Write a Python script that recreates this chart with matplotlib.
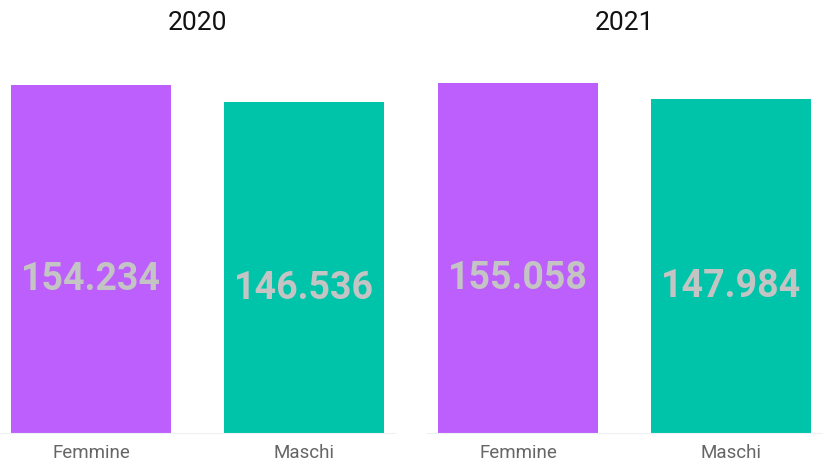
import matplotlib
matplotlib.use("Agg")
import matplotlib.pyplot as plt

years = ["2020", "2021"]
categories = ["Femmine", "Maschi"]
values = {"2020": [154234, 146536], "2021": [155058, 147984]}
labels = {"2020": ["154.234", "146.536"], "2021": ["155.058", "147.984"]}
colors = ["#BD5FFD", "#00C4AA"]

fig = plt.figure(figsize=(8.34, 4.62), dpi=100)
W, H = 834, 462
panels = [(0, 395), (427, 395)]
bottom_px, top_px = 433, 60
for (x0, w), yr in zip(panels, years):
    ax = fig.add_axes([x0 / W, (H - bottom_px) / H, w / W, (bottom_px - top_px) / H])
    xs = range(len(categories))
    ax.bar(xs, values[yr], width=0.75, color=colors)
    ax.set_xlim(-0.427, 1.427)
    ax.set_ylim(0, 165300)
    for s in ["top", "left", "right"]:
        ax.spines[s].set_visible(False)
    ax.spines["bottom"].set_color("#eef1f4")
    ax.set_yticks([])
    ax.set_xticks(list(xs))
    ax.set_xticklabels(categories, fontsize=13.5, color="#666666", family="Roboto")
    ax.tick_params(axis="x", length=0, pad=8)
    for x, v, lab in zip(xs, values[yr], labels[yr]):
        ax.annotate(lab, (x, v / 2), xytext=(0, -15), textcoords="offset points",
                    ha="center", va="center", fontsize=27, fontweight="bold",
                    color="#C4C4C4", family="Roboto")
    fig.text((x0 + w / 2) / W, 1 - 23 / H, yr, ha="center", va="center",
             fontsize=19, color="#111111", family="Roboto")

fig.savefig("out.png", dpi=100)
